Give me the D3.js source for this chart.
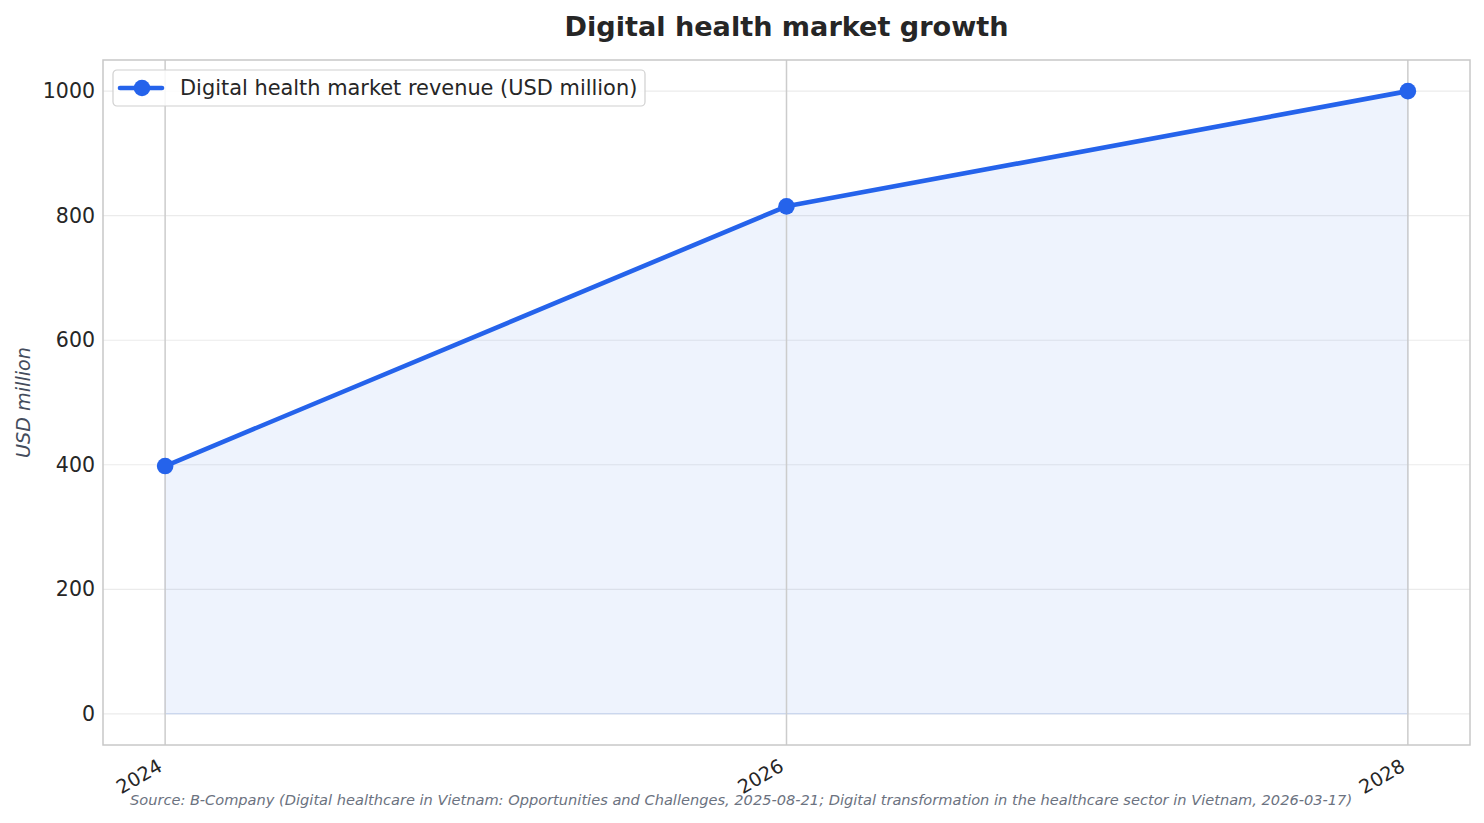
<!DOCTYPE html>
<html>
<head>
<meta charset="utf-8">
<script src="https://cdn.jsdelivr.net/npm/d3@7"></script>
<style>
  body { margin: 0; background: #fff; }
  svg { font-family: "DejaVu Sans", sans-serif; }
</style>
</head>
<body>
<div id="chart"></div>
<script>
// data
const years = [2024, 2026, 2028];
const revenue = [398, 815, 1000];
const yTicks = [0, 200, 400, 600, 800, 1000];
const seriesName = "Digital health market revenue (USD million)";
const title = "Digital health market growth";
const yLabel = "USD million";
const source = "Source: B-Company (Digital healthcare in Vietnam: Opportunities and Challenges, 2025-08-21; Digital transformation in the healthcare sector in Vietnam, 2026-03-17)";

const width = 1484, height = 823;
const margin = { top: 60, right: 14, bottom: 78, left: 103 };
const color = "#2563eb";

const data = years.map((y, i) => ({ year: y, value: revenue[i] }));

const svg = d3.select("#chart").append("svg")
  .attr("width", width)
  .attr("height", height);

const x = d3.scaleLinear()
  .domain([2023.8, 2028.2])
  .range([margin.left, width - margin.right]);
const y = d3.scaleLinear()
  .domain([-50, 1050])
  .range([height - margin.bottom, margin.top]);

// horizontal grid
svg.append("g")
  .selectAll("line")
  .data(yTicks)
  .join("line")
  .attr("x1", margin.left).attr("x2", width - margin.right)
  .attr("y1", d => y(d)).attr("y2", d => y(d))
  .attr("stroke", "#ebebeb").attr("stroke-width", 1.2);

// area
const area = d3.area()
  .x(d => x(d.year))
  .y0(y(0))
  .y1(d => y(d.value));
svg.append("path")
  .datum(data)
  .attr("d", area)
  .attr("fill", color).attr("fill-opacity", 0.08)
  .attr("stroke", color).attr("stroke-opacity", 0.12).attr("stroke-width", 1.5);

// vertical year lines
svg.append("g")
  .selectAll("line")
  .data(years)
  .join("line")
  .attr("x1", d => x(d)).attr("x2", d => x(d))
  .attr("y1", margin.top).attr("y2", height - margin.bottom)
  .attr("stroke", "#cccccc").attr("stroke-width", 1.5);

// frame
svg.append("rect")
  .attr("x", margin.left).attr("y", margin.top)
  .attr("width", width - margin.left - margin.right)
  .attr("height", height - margin.top - margin.bottom)
  .attr("fill", "none").attr("stroke", "#c8c8c8").attr("stroke-width", 1.5);

// line + markers
const line = d3.line().x(d => x(d.year)).y(d => y(d.value));
svg.append("path")
  .datum(data)
  .attr("d", line)
  .attr("fill", "none").attr("stroke", color)
  .attr("stroke-width", 4.6).attr("stroke-linejoin", "round");
svg.append("g")
  .selectAll("circle")
  .data(data)
  .join("circle")
  .attr("cx", d => x(d.year)).attr("cy", d => y(d.value))
  .attr("r", 8.3).attr("fill", color);

// y axis
const yAxis = svg.append("g")
  .attr("transform", `translate(${margin.left},0)`)
  .call(d3.axisLeft(y).tickValues(yTicks).tickFormat(d3.format("d")).tickSize(0).tickPadding(8));
yAxis.select(".domain").remove();
yAxis.selectAll("text")
  .attr("font-family", "DejaVu Sans").attr("font-size", 20.5).attr("fill", "#262626");

// x axis, labels rotated like matplotlib (ha=right, rotation=30)
const xAxis = svg.append("g")
  .attr("transform", `translate(0,${height - margin.bottom})`)
  .call(d3.axisBottom(x).tickValues(years).tickFormat(d3.format("d")).tickSize(0));
xAxis.select(".domain").remove();
xAxis.selectAll("text")
  .attr("font-family", "DejaVu Sans").attr("font-size", 19.2).attr("fill", "#262626")
  .attr("text-anchor", "end")
  .attr("dy", 0)
  .attr("y", 0)
  .attr("transform", "translate(-2,25) rotate(-30)");

// title
svg.append("text")
  .attr("x", (margin.left + width - margin.right) / 2).attr("y", 36)
  .attr("text-anchor", "middle")
  .attr("font-size", 27.1).attr("font-weight", "bold").attr("fill", "#262626")
  .text(title);

// y label
svg.append("text")
  .attr("transform", `translate(30,${(margin.top + height - margin.bottom) / 2}) rotate(-90)`)
  .attr("text-anchor", "middle")
  .attr("font-size", 19.2).attr("font-style", "italic").attr("fill", "#444c5c")
  .text(yLabel);

// source
svg.append("text")
  .attr("x", 130).attr("y", 805)
  .attr("font-size", 14.6).attr("font-style", "italic").attr("fill", "#6b7280")
  .text(source);

// legend
const legend = svg.append("g").attr("transform", "translate(113,70)");
legend.append("rect")
  .attr("width", 532).attr("height", 36).attr("rx", 4)
  .attr("fill", "white").attr("fill-opacity", 0.85)
  .attr("stroke", "#d0d0d0").attr("stroke-width", 1.2);
legend.append("line")
  .attr("x1", 7).attr("x2", 49).attr("y1", 18).attr("y2", 18)
  .attr("stroke", color).attr("stroke-width", 4.6).attr("stroke-linecap", "round");
legend.append("circle")
  .attr("cx", 29).attr("cy", 18).attr("r", 8.3).attr("fill", color);
legend.append("text")
  .attr("x", 67).attr("y", 25)
  .attr("font-size", 20.9).attr("fill", "#262626")
  .text(seriesName);
</script>
</body>
</html>
